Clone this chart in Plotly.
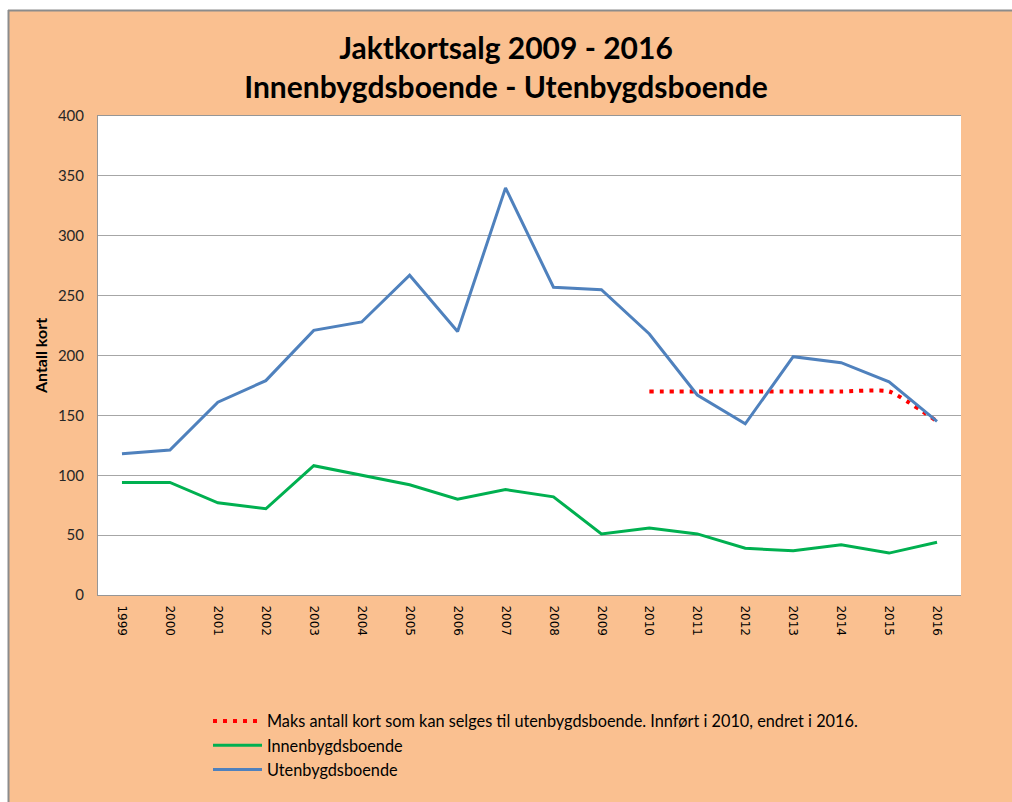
import plotly.graph_objects as go

years = [str(y) for y in range(1999, 2017)]
utenbygds = [118, 121, 161, 179, 221, 228, 267, 220, 340, 257, 255, 218, 167, 143, 199, 194, 178, 145]
innenbygds = [94, 94, 77, 72, 108, 100, 92, 80, 88, 82, 51, 56, 51, 39, 37, 42, 35, 44]
maks = [None] * 11 + [170, 170, 170, 170, 170, 170, 145]

title_text = "Jaktkortsalg 2009 - 2016<br>Innenbygdsboende - Utenbygdsboende"
name_maks = "Maks antall kort som kan selges til utenbygdsboende. Innført i 2010, endret i 2016."
name_inn = "Innenbygdsboende"
name_uten = "Utenbygdsboende"

W, H = 1012, 802
L, R, T, B = 98, 51, 116, 207
pw, ph = W - L - R, H - T - B

def px_x(p):
    return (p - L) / pw

def px_y(p):
    return (H - B - p) / ph

fig = go.Figure()
fig.add_trace(go.Scatter(x=years, y=maks, name=name_maks, mode="lines",
                         line=dict(color="#FF0000", width=4, dash="4px,6px", shape="spline", smoothing=0.5),
                         connectgaps=False))
fig.add_trace(go.Scatter(x=years, y=innenbygds, name=name_inn, mode="lines",
                         line=dict(color="#00B050", width=3)))
fig.add_trace(go.Scatter(x=years, y=utenbygds, name=name_uten, mode="lines",
                         line=dict(color="#4F81BD", width=3)))

fig.update_layout(
    width=W, height=H,
    margin=dict(l=L, r=R, t=T, b=B, pad=0),
    paper_bgcolor="#FAC090",
    plot_bgcolor="#FFFFFF",
    font=dict(family="Lato, Carlito, sans-serif", color="#000000"),
    title=dict(text=title_text, x=0.5, xanchor="center", y=1 - 59 / H, yanchor="middle",
               font=dict(size=30, family="Lato, sans-serif", weight="bold", color="#000000")),
    showlegend=True,
    legend=dict(x=px_x(208), y=px_y(704), xanchor="left", yanchor="top",
                orientation="v", bgcolor="rgba(0,0,0,0)", traceorder="normal",
                font=dict(size=16.3, family="Lato, sans-serif", color="#000000"),
                itemwidth=49, tracegroupgap=2),
    xaxis=dict(type="category", range=[-0.5, 17.5], tickangle=90,
               showgrid=False, showline=True, mirror=True, linecolor="#969696", linewidth=1,
               ticks="", ticklabelstandoff=7,
               tickfont=dict(size=12, family="DejaVu Sans, sans-serif", color="#000000"),
               fixedrange=True),
    yaxis=dict(range=[0, 400], dtick=50, showgrid=True, gridcolor="#A6A6A6", gridwidth=1,
               showline=True, linecolor="#969696", linewidth=1, zeroline=False,
               ticks="", ticklabelstandoff=10,
               tickfont=dict(size=15, family="Lato, sans-serif", color="#262626"),
               title=dict(text="<b>Antall kort</b>", font=dict(size=16, family="Lato, sans-serif", color="#000000"),
                          standoff=6)),
    shapes=[
        dict(type="rect", xref="paper", yref="paper", x0=px_x(-5), x1=px_x(8), y0=px_y(810), y1=px_y(-5),
             fillcolor="#FFFFFF", line=dict(width=0), layer="above"),
        dict(type="rect", xref="paper", yref="paper", x0=px_x(-5), x1=px_x(1020), y0=px_y(10), y1=px_y(-5),
             fillcolor="#FFFFFF", line=dict(width=0), layer="above"),
        dict(type="line", xref="paper", yref="paper", x0=px_x(8.5), x1=px_x(8.5), y0=px_y(10), y1=px_y(810),
             line=dict(color="#8C8C8C", width=2), layer="above"),
        dict(type="line", xref="paper", yref="paper", x0=px_x(8), x1=px_x(1020), y0=px_y(10.5), y1=px_y(10.5),
             line=dict(color="#8C8C8C", width=2), layer="above"),
    ],
)

fig.write_html("out.html", config={"displayModeBar": False},
               post_script="document.body.style.margin='0';document.body.style.overflow='hidden';")
